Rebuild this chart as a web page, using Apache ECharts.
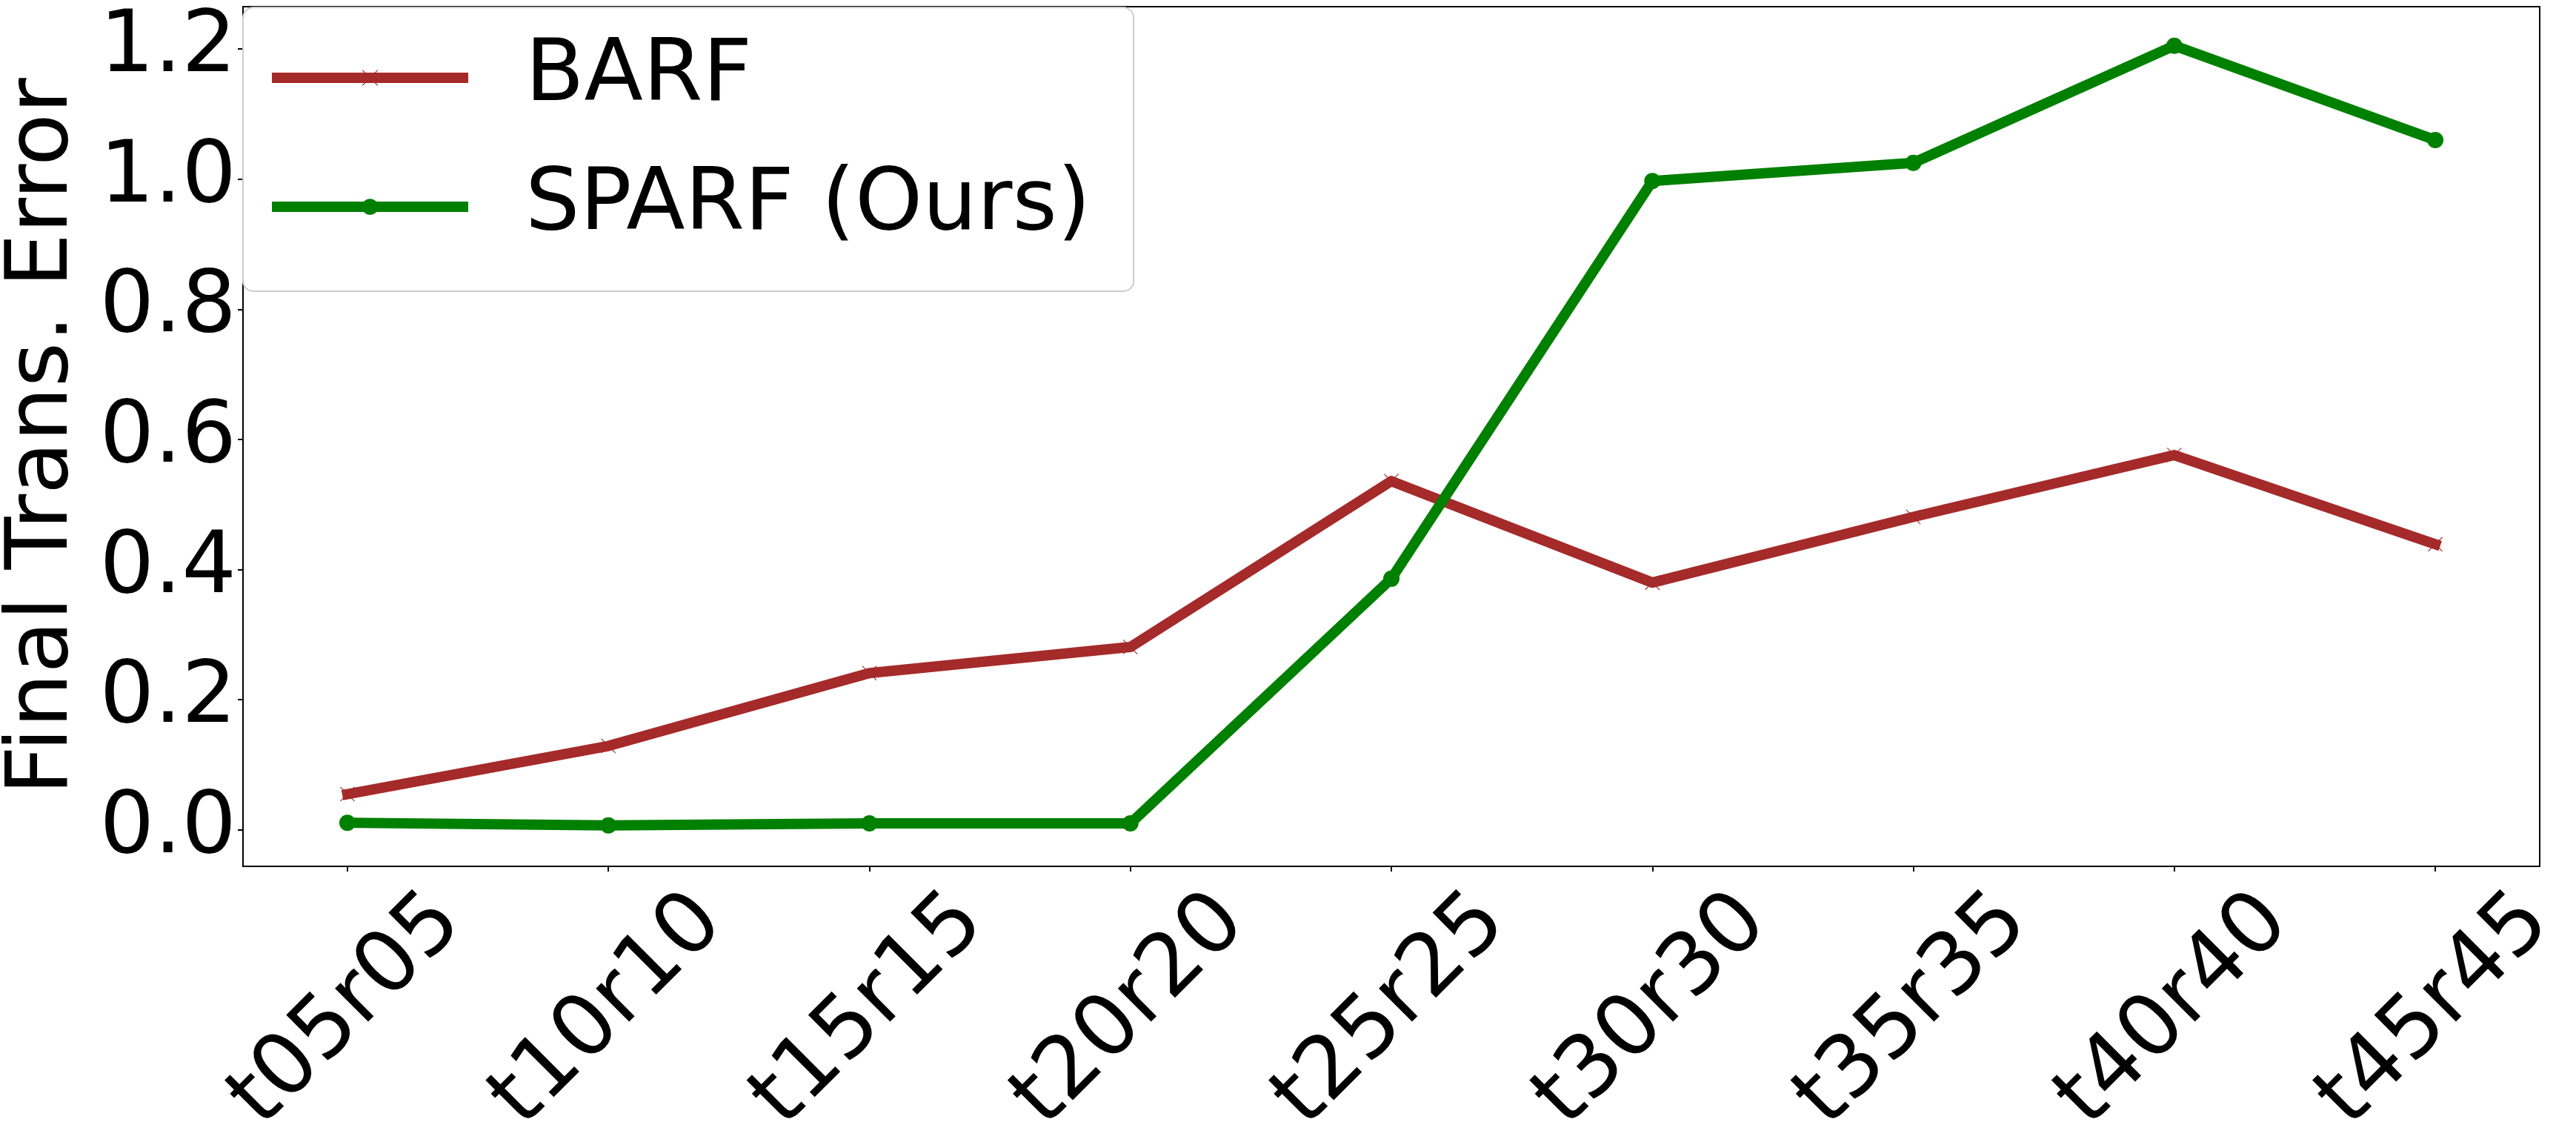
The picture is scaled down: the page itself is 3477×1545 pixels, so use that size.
<!DOCTYPE html>
<html lang="en">
<head>
    <meta charset="UTF-8">
    <title>Final Trans. Error</title>
    <script src="https://cdn.jsdelivr.net/npm/echarts@6/dist/echarts.min.js"></script>
    <style>
        html, body { margin: 0; height: 100%; background: #fff; }
        #chart { width: 3477px; height: 1545px; }
    </style>
</head>
<body>
    <div id="chart"></div>
    <script>
        // data
        var categories = ['t05r05', 't10r10', 't15r15', 't20r20', 't25r25', 't30r30', 't35r35', 't40r40', 't45r45'];
        var barfValues = [0.055, 0.129, 0.241, 0.281, 0.536, 0.380, 0.481, 0.576, 0.439];
        var sparfValues = [0.011, 0.007, 0.010, 0.010, 0.386, 0.997, 1.025, 1.205, 1.060];
        var yTicks = [0, 0.2, 0.4, 0.6, 0.8, 1.0, 1.2];
        var xTicks = categories.map(function (c, i) { return i; });

        var font = 'DejaVu Sans';
        var crossPath = 'path://M0,4L4,0L50,46L96,0L100,4L54,50L100,96L96,100L50,54L4,100L0,96L46,50Z';

        function toPoints(values) {
            return values.map(function (v, i) { return [i, v]; });
        }

        var chart = echarts.init(document.getElementById('chart'));

        var option = {
            animation: false,
            backgroundColor: '#fff',
            grid: {
                left: 328, right: 49, top: 9, bottom: 376,
                show: true, borderColor: '#000', borderWidth: 2,
                containLabel: false, outerBoundsMode: 'none'
            },
            legend: {
                orient: 'vertical',
                left: 328, top: 10,
                padding: [37, 58, 56, 39],
                itemGap: 58,
                itemWidth: 251,
                itemHeight: 27,
                backgroundColor: 'rgba(255,255,255,0.8)',
                borderColor: '#cccccc',
                borderWidth: 2,
                borderRadius: 14,
                lineStyle: { width: 14 },
                textStyle: { fontFamily: font, fontSize: 116, lineHeight: 116, color: '#000', padding: [0, 0, 0, 79] },
                data: ['BARF', 'SPARF (Ours)']
            },
            xAxis: {
                type: 'value',
                min: -0.4, max: 8.4,
                splitLine: { show: false },
                axisLine: { show: true, onZero: false, lineStyle: { color: '#000', width: 2 } },
                axisTick: { show: true, customValues: xTicks, length: 7, lineStyle: { color: '#000', width: 2 } },
                axisLabel: {
                    customValues: xTicks,
                    rotate: 45,
                    align: 'center',
                    verticalAlign: 'middle',
                    margin: 195,
                    fontFamily: font, fontSize: 116, color: '#000',
                    formatter: function (v) { return categories[Math.round(v)]; }
                }
            },
            yAxis: {
                type: 'value',
                min: -0.056, max: 1.265,
                name: 'Final Trans. Error',
                nameLocation: 'middle',
                nameGap: 210,
                nameMoveOverlap: false,
                nameTextStyle: { fontFamily: font, fontSize: 116, color: '#000' },
                splitLine: { show: false },
                axisLine: { show: true, onZero: false, lineStyle: { color: '#000', width: 2 } },
                axisTick: { show: true, customValues: yTicks, length: 7, lineStyle: { color: '#000', width: 2 } },
                axisLabel: {
                    customValues: yTicks,
                    margin: 9,
                    fontFamily: font, fontSize: 116, color: '#000',
                    formatter: function (v) { return v.toFixed(1); }
                }
            },
            series: [
                {
                    name: 'BARF',
                    type: 'line',
                    data: toPoints(barfValues),
                    symbol: crossPath,
                    symbolSize: 20,
                    showSymbol: true,
                    itemStyle: { color: '#a52a2a' },
                    lineStyle: { color: '#a52a2a', width: 14, join: 'round', cap: 'square' },
                    z: 2
                },
                {
                    name: 'SPARF (Ours)',
                    type: 'line',
                    data: toPoints(sparfValues),
                    symbol: 'circle',
                    symbolSize: 22,
                    showSymbol: true,
                    itemStyle: { color: '#008000' },
                    lineStyle: { color: '#008000', width: 14, join: 'round', cap: 'square' },
                    z: 3
                }
            ]
        };

        chart.setOption(option);
    </script>
</body>
</html>
